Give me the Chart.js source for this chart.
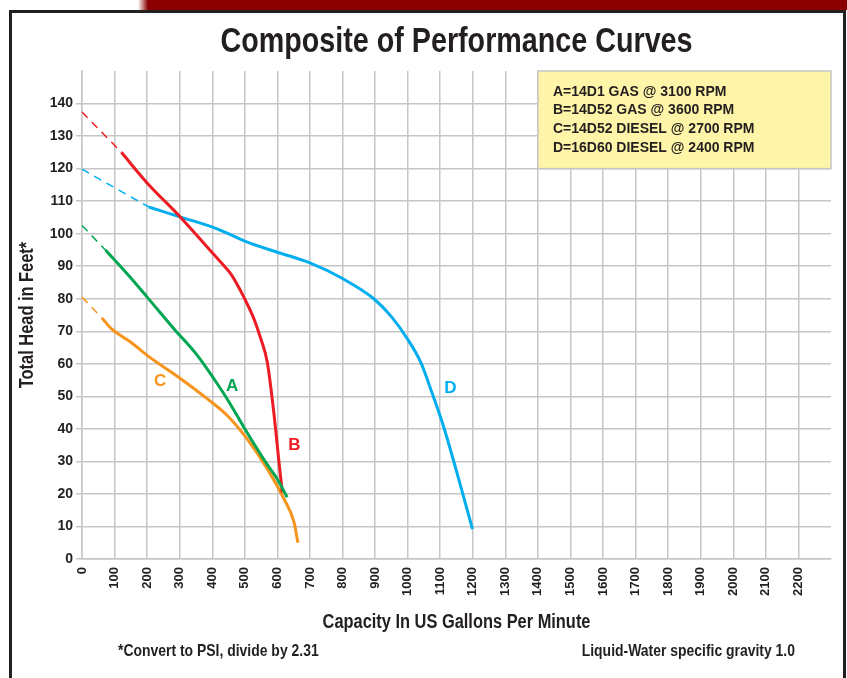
<!DOCTYPE html>
<html>
<head>
<meta charset="utf-8">
<title>Composite of Performance Curves</title>
<script src="https://cdn.jsdelivr.net/npm/chart.js@4.4.1/dist/chart.umd.min.js"></script>
<style>
  html, body { margin: 0; padding: 0; background: #fff; }
  #wrap { width: 847px; height: 678px; }
</style>
</head>
<body>
<div id="wrap"><canvas id="curves" width="847" height="678"></canvas></div>
<script>
// Flow in US gpm, head in feet.
// "Dash" arrays are the extrapolated part back to shut-off head.
const flowA = [72, 140, 200, 282, 354, 405, 450, 497, 540, 569, 600, 630];
const headA = [95, 87.5, 80.5, 70.8, 62.6, 55.4, 48.5, 40.5, 33.5, 29, 24.5, 19];
const flowADash = [0, 72];
const headADash = [102.5, 95];

const flowB = [121, 200, 303, 405, 432, 458, 497, 528, 548, 569, 589, 605, 615];
const headB = [125, 115.6, 105, 93.6, 90.6, 87.5, 80.5, 73.8, 68, 60.5, 45, 29.7, 20.5];
const flowBDash = [0, 121];
const headBDash = [137.4, 125];

const flowC = [62, 90, 149, 200, 303, 385, 446, 507, 569, 620, 651, 663];
const headC = [74, 70.8, 66.7, 62.6, 55.4, 49.2, 44.1, 36.9, 27.7, 18.5, 11.3, 5];
const flowCDash = [0, 62];
const headCDash = [80.5, 74];

const flowD = [205, 303, 415, 508, 600, 700, 800, 896, 950, 999, 1040, 1075, 1111, 1150, 1199];
const headD = [108.2, 105.1, 101.5, 97.4, 94.3, 91, 86.2, 80, 74.5, 67.7, 60.5, 51, 40.5, 27, 9.2];
const flowDDash = [0, 205];
const headDDash = [119.8, 108.2];

const legendLines = [
  'A=14D1 GAS @ 3100 RPM',
  'B=14D52 GAS @ 3600 RPM',
  'C=14D52 DIESEL @ 2700 RPM',
  'D=16D60 DIESEL @ 2400 RPM'
];

const colA = '#00a651', colB = '#ed1c24', colC = '#f7941d', colD = '#00aeef';
const ink = '#231f20';

function pairs(xs, ys) {
  return xs.map((x, i) => ({ x: x, y: ys[i] }));
}

function solid(label, xs, ys, color) {
  return {
    label: label, data: pairs(xs, ys), borderColor: color, borderWidth: 3,
    pointRadius: 0, cubicInterpolationMode: 'monotone', fill: false
  };
}

function dashed(label, xs, ys, color) {
  return {
    label: label, data: pairs(xs, ys), borderColor: color, borderWidth: 1.5,
    borderDash: [8, 6], pointRadius: 0, fill: false
  };
}

// narrow bold text, squeezed from the regular face
function narrowText(ctx, text, x, y, size, align, rot) {
  ctx.save();
  ctx.translate(x, y);
  if (rot) ctx.rotate(rot);
  ctx.scale(0.82, 1);
  ctx.font = 'bold ' + size + 'px "Liberation Sans", Arial, sans-serif';
  ctx.fillStyle = ink;
  ctx.textAlign = align;
  ctx.textBaseline = 'middle';
  ctx.fillText(text, 0, 0);
  ctx.restore();
}

const decorations = {
  id: 'decorations',
  beforeDraw(chart) {
    const ctx = chart.ctx;
    ctx.save();
    ctx.fillStyle = '#fff';
    ctx.fillRect(0, 0, chart.width, chart.height);
    // maroon band across the top
    const g = ctx.createLinearGradient(138, 0, 148, 0);
    g.addColorStop(0, 'rgba(139,0,0,0)');
    g.addColorStop(1, '#8b0000');
    ctx.fillStyle = g;
    ctx.fillRect(138, 0, chart.width - 138, 10);
    // frame
    ctx.strokeStyle = ink;
    ctx.lineWidth = 3;
    ctx.beginPath();
    ctx.moveTo(10.5, chart.height + 5);
    ctx.lineTo(10.5, 11.5);
    ctx.lineTo(844.5, 11.5);
    ctx.lineTo(844.5, chart.height + 5);
    ctx.stroke();
    ctx.restore();
  },
  afterDraw(chart) {
    const ctx = chart.ctx;
    const x = chart.scales.x, y = chart.scales.y;
    const area = chart.chartArea;

    // model key box, top right of the grid
    const bx0 = x.getPixelForValue(1400), bx1 = x.getPixelForValue(2300);
    const by0 = y.getPixelForValue(150), by1 = y.getPixelForValue(120);
    ctx.save();
    ctx.fillStyle = '#fff5a8';
    ctx.fillRect(bx0, by0, bx1 - bx0, by1 - by0);
    ctx.strokeStyle = '#c6c6c6';
    ctx.lineWidth = 1.5;
    ctx.strokeRect(bx0, by0, bx1 - bx0, by1 - by0);
    ctx.font = 'bold 14px "Liberation Sans", Arial, sans-serif';
    ctx.fillStyle = ink;
    ctx.textBaseline = 'middle';
    legendLines.forEach((t, i) => ctx.fillText(t, bx0 + 15, by0 + 21 + i * 18.6));

    // curve letters
    const tags = [['A', 461, 53, colA], ['B', 652, 35, colB], ['C', 240, 54.5, colC], ['D', 1131, 52.5, colD]];
    ctx.font = 'bold 17px "Liberation Sans", Arial, sans-serif';
    ctx.textAlign = 'center';
    tags.forEach(t => {
      ctx.fillStyle = t[3];
      ctx.fillText(t[0], x.getPixelForValue(t[1]), y.getPixelForValue(t[2]));
    });
    ctx.restore();

    const cx = (area.left + area.right) / 2;
    narrowText(ctx, 'Composite of Performance Curves', cx, 42, 35, 'center');
    narrowText(ctx, 'Capacity In US Gallons Per Minute', cx, 622, 20, 'center');
    narrowText(ctx, 'Total Head in Feet*', 27, (area.top + area.bottom) / 2, 20, 'center', -Math.PI / 2);
    narrowText(ctx, '*Convert to PSI, divide by 2.31', 118, 651, 17, 'left');
    narrowText(ctx, 'Liquid-Water specific gravity 1.0', 795, 651, 17, 'right');
  }
};

const tickFont = { family: '"Liberation Sans", Arial, sans-serif', weight: 'bold' };

new Chart(document.getElementById('curves'), {
  type: 'line',
  data: {
    datasets: [
      solid('A', flowA, headA, colA),
      dashed('A ext', flowADash, headADash, colA),
      solid('B', flowB, headB, colB),
      dashed('B ext', flowBDash, headBDash, colB),
      solid('C', flowC, headC, colC),
      dashed('C ext', flowCDash, headCDash, colC),
      solid('D', flowD, headD, colD),
      dashed('D ext', flowDDash, headDDash, colD)
    ]
  },
  options: {
    responsive: false,
    animation: false,
    layout: { padding: { left: 12, right: 16, top: 71, bottom: 69 } },
    plugins: {
      legend: { display: false },
      title: { display: false },
      tooltip: { enabled: false }
    },
    scales: {
      x: {
        type: 'linear',
        min: 0,
        max: 2300,
        afterFit: s => { s.height = 50; },
        grid: { color: '#c6c6c6', lineWidth: 1.5, drawTicks: false },
        border: { color: '#c6c6c6', width: 1.5 },
        ticks: {
          stepSize: 100,
          autoSkip: false,
          minRotation: 90,
          maxRotation: 90,
          padding: 8,
          color: ink,
          font: Object.assign({ size: 13 }, tickFont),
          callback: v => (v < 2300 ? String(v) : null)
        }
      },
      y: {
        min: 0,
        max: 150,
        afterFit: s => { s.width = 70; },
        grid: { color: '#c6c6c6', lineWidth: 1.5, tickLength: 6 },
        border: { color: '#c6c6c6', width: 1.5 },
        ticks: {
          stepSize: 10,
          padding: 3,
          color: ink,
          font: Object.assign({ size: 14 }, tickFont),
          callback: v => (v < 150 ? String(v) : null)
        }
      }
    }
  },
  plugins: [decorations]
});
</script>
</body>
</html>
